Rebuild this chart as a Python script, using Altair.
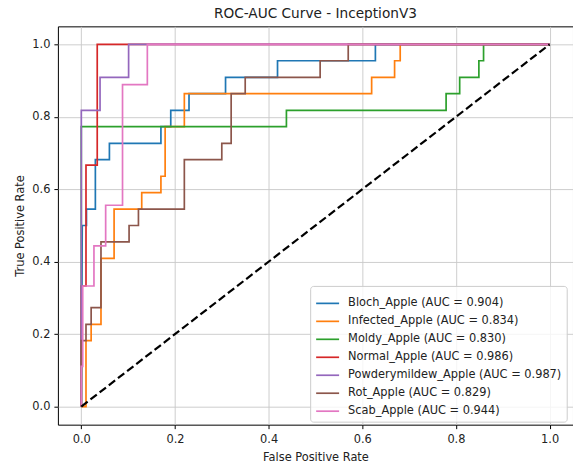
import altair as alt
import pandas as pd

names = ["Bloch_Apple", "Infected_Apple", "Moldy_Apple", "Normal_Apple",
         "Powderymildew_Apple", "Rot_Apple", "Scab_Apple"]
aucs = [0.904, 0.834, 0.830, 0.986, 0.987, 0.829, 0.944]
colors = ["#1f77b4", "#ff7f0e", "#2ca02c", "#d62728", "#9467bd", "#8c564b", "#e377c2"]

bloch_fpr = [0, 0.002, 0.011, 0.011, 0.030, 0.030, 0.060, 0.060, 0.170, 0.170, 0.191, 0.191,
             0.230, 0.230, 0.308, 0.308, 0.419, 0.419, 0.628, 0.628, 1.0]
bloch_tpr = [0, 0.500, 0.500, 0.545, 0.545, 0.682, 0.682, 0.727, 0.727, 0.773, 0.773, 0.818,
             0.818, 0.864, 0.864, 0.909, 0.909, 0.955, 0.955, 1.0, 1.0]

infected_fpr = [0, 0.010, 0.010, 0.021, 0.021, 0.042, 0.042, 0.070, 0.070, 0.129, 0.129, 0.170,
                0.170, 0.179, 0.179, 0.220, 0.220, 0.620, 0.620, 0.669, 0.669, 0.681, 0.681, 1.0]
infected_tpr = [0, 0, 0.182, 0.182, 0.227, 0.227, 0.409, 0.409, 0.545, 0.545, 0.591, 0.591,
                0.636, 0.636, 0.773, 0.773, 0.864, 0.864, 0.909, 0.909, 0.955, 0.955, 1.0, 1.0]

moldy_fpr = [0, 0, 0.438, 0.438, 0.779, 0.779, 0.808, 0.808, 0.849, 0.849, 0.859, 0.859, 1.0]
moldy_tpr = [0, 0.773, 0.773, 0.818, 0.818, 0.864, 0.864, 0.909, 0.909, 0.955, 0.955, 1.0, 1.0]

normal_fpr = [0, 0, 0.010, 0.010, 0.034, 0.034, 1.0]
normal_tpr = [0, 0.333, 0.333, 0.667, 0.667, 1.0, 1.0]

powdery_fpr = [0, 0, 0.040, 0.040, 0.101, 0.101, 1.0]
powdery_tpr = [0, 0.818, 0.818, 0.909, 0.909, 1.0, 1.0]

rot_fpr = [0, 0, 0.010, 0.010, 0.021, 0.021, 0.042, 0.042, 0.102, 0.102, 0.122, 0.122, 0.220,
           0.220, 0.300, 0.300, 0.320, 0.320, 0.350, 0.350, 0.510, 0.510, 0.570, 0.570, 1.0]
rot_tpr = [0, 0.182, 0.182, 0.227, 0.227, 0.273, 0.273, 0.455, 0.455, 0.500, 0.500, 0.545, 0.545,
           0.682, 0.682, 0.727, 0.727, 0.864, 0.864, 0.909, 0.909, 0.955, 0.955, 1.0, 1.0]

scab_fpr = [0, 0, 0.003, 0.003, 0.027, 0.027, 0.052, 0.052, 0.088, 0.088, 0.141, 0.141, 1.0]
scab_tpr = [0, 0.111, 0.111, 0.333, 0.333, 0.444, 0.444, 0.556, 0.556, 0.889, 0.889, 1.0, 1.0]

diag_x = [0.0, 1.0]
diag_y = [0.0, 1.0]

tick_vals = [0.0, 0.2, 0.4, 0.6, 0.8, 1.0]

all_fpr = [bloch_fpr, infected_fpr, moldy_fpr, normal_fpr, powdery_fpr, rot_fpr, scab_fpr]
all_tpr = [bloch_tpr, infected_tpr, moldy_tpr, normal_tpr, powdery_tpr, rot_tpr, scab_tpr]

labels = [f"{n} (AUC = {a:.3f})" for n, a in zip(names, aucs)]
rows = []
for lab, fs, ts in zip(labels, all_fpr, all_tpr):
    for i, (f, t) in enumerate(zip(fs, ts)):
        rows.append({"label": lab, "fpr": f, "tpr": t, "idx": i})
df = pd.DataFrame(rows)
diag_df = pd.DataFrame({"fpr": diag_x, "tpr": diag_y})

FONT = "DejaVu Sans"
FS = 11.4
TXT = "#222222"

xscale = alt.Scale(domain=[-0.05, 1.05], nice=False, zero=False)
yscale = alt.Scale(domain=[-0.05, 1.05], nice=False, zero=False)

axis_style = dict(grid=True, gridColor="#c8c8c8", gridWidth=0.9, domain=False,
                  tickColor="black", tickSize=4,
                  labelFont=FONT, labelFontSize=FS, labelColor=TXT,
                  titleFont=FONT, titleFontSize=FS, titleFontWeight="normal", titleColor=TXT)

xaxis = alt.Axis(values=tick_vals, format=".1f", title="False Positive Rate",
                 titlePadding=6, labelPadding=5, **axis_style)
yaxis = alt.Axis(values=tick_vals, format=".1f", title="True Positive Rate",
                 titlePadding=6, labelPadding=4, **axis_style)

color = alt.Color("label:N", scale=alt.Scale(domain=labels, range=colors),
                  legend=alt.Legend(title=None, orient="none", legendX=252.7, legendY=260,
                                    symbolType="stroke", symbolSize=529, symbolStrokeWidth=1.7,
                                    labelFont=FONT, labelFontSize=FS, labelColor=TXT,
                                    labelLimit=0, rowPadding=0, padding=5, labelOffset=8,
                                    strokeColor="#cccccc", fillColor="rgba(255,255,255,0.8)",
                                    cornerRadius=3))

layers = []
for lab in labels:
    layers.append(
        alt.Chart(df).transform_filter(alt.datum.label == lab)
        .mark_line(strokeWidth=1.7)
        .encode(x=alt.X("fpr:Q", scale=xscale, axis=xaxis),
                y=alt.Y("tpr:Q", scale=yscale, axis=yaxis),
                color=color,
                order=alt.Order("idx:Q"))
    )

diag = alt.Chart(diag_df).mark_line(color="black", strokeWidth=2.2, strokeDash=[8, 3.6]).encode(
    x=alt.X("fpr:Q", scale=xscale, axis=xaxis),
    y=alt.Y("tpr:Q", scale=yscale, axis=yaxis),
)

chart = alt.layer(*layers, diag).properties(
    width=516, height=399,
    background="white",
    title=alt.TitleParams("ROC-AUC Curve - InceptionV3", font=FONT, fontSize=13.7,
                          fontWeight="normal", color=TXT, offset=6),
    autosize=alt.AutoSizeParams(type="none"),
    padding={"left": 58, "top": 26, "right": 0, "bottom": 39},
).configure_view(
    stroke="black", strokeWidth=1
)

chart.save("out.html", embed_options={"renderer": "svg", "actions": False})
